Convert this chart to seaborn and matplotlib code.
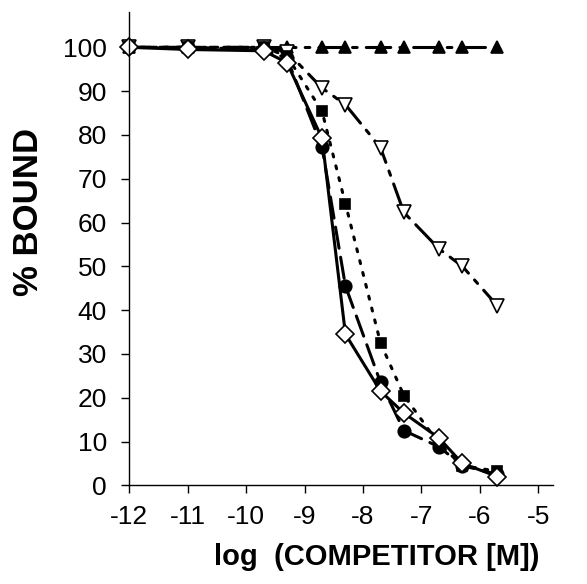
import matplotlib
matplotlib.use("Agg")
import matplotlib.pyplot as plt
import seaborn as sns
import pandas as pd

# --- DATA ---
log_conc = [-12, -11, -9.7, -9.3, -8.7, -8.3, -7.7, -7.3, -6.7, -6.3, -5.7]

tri_up = [100, 100, 100, 100, 100, 100, 100, 100, 100, 100, 100]
tri_down = [100, 100, 100, 99, 90.7, 86.9, 77.1, 62.3, 54, 50, 41]
squares = [100, 100, 100, 98, 85.4, 64.3, 32.5, 20.5, 9.5, 4.5, 3.2]
circles = [100, 100, 99.5, 97.5, 77.2, 45.5, 23.5, 12.5, 8.8, 4.5, 2.5]
diamonds = [100, 99.5, 99.2, 96.5, 79.2, 34.5, 21.5, 16.5, 10.8, 5, 2]

x_ticks = [-12, -11, -10, -9, -8, -7, -6, -5]
x_labels = ['-12', '-11', '-10', '-9', '-8', '-7', '-6', '-5']
y_ticks = [0, 10, 20, 30, 40, 50, 60, 70, 80, 90, 100]

sns.set_style("ticks")
plt.rcParams['font.family'] = ['Liberation Sans', 'DejaVu Sans']
plt.rcParams['text.color'] = 'black'
plt.rcParams['axes.labelcolor'] = 'black'
plt.rcParams['xtick.color'] = 'black'
plt.rcParams['ytick.color'] = 'black'
plt.rcParams['axes.edgecolor'] = 'black'

fig = plt.figure(figsize=(5.87, 5.84), dpi=100)
ax = fig.add_axes([0.22, 0.169, 0.722, 0.81])

# --- SERIES ---
series = [
    (tri_up, '^', 'black', (0, (8, 3, 1.5, 3)), 9),
    (tri_down, 'v', 'white', (0, (8, 3, 1.5, 3)), 10),
    (squares, 's', 'black', (0, (1, 3)), 7.5),
    (circles, 'o', 'black', (0, (7, 3)), 9),
    (diamonds, 'D', 'white', '-', 9),
]

for vals, mk, face, ls, ms in series:
    df = pd.DataFrame({'x': log_conc, 'y': vals})
    sns.lineplot(data=df, x='x', y='y', ax=ax, color='black', marker=mk,
                 markerfacecolor=face, markeredgecolor='black', markersize=ms,
                 markeredgewidth=1.2, linestyle=ls, linewidth=2.2,
                 dash_capstyle='round', clip_on=False)

ax.set_xlim(-12, -4.75)
ax.set_ylim(0, 108)
ax.set_xticks(x_ticks)
ax.set_xticklabels(x_labels)
ax.set_yticks(y_ticks)
ax.tick_params(axis='both', labelsize=19, length=6, width=1, direction='out', pad=10)
ax.tick_params(axis='x', pad=8)
sns.despine(ax=ax)
ax.spines['left'].set_linewidth(1)
ax.spines['bottom'].set_linewidth(1)

ax.set_xlabel('log  (COMPETITOR [M])', fontsize=21, fontweight='bold')
ax.set_ylabel('% BOUND', fontsize=25, fontweight='bold')
ax.xaxis.set_label_coords(0.585, -0.122)
ax.yaxis.set_label_coords(-0.198, 0.577)

plt.savefig('out.png', dpi=100)
